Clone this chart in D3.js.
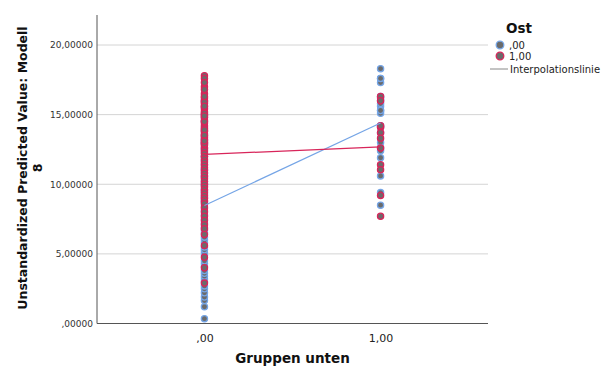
<!DOCTYPE html>
<html><head><meta charset="utf-8">
<script src="https://cdn.jsdelivr.net/npm/d3@7"></script>
<style>body{margin:0;background:#fff}svg{display:block}</style>
</head><body>
<svg id="c" width="612" height="369"></svg>
<script>
const xCategories = [0, 1];
const xTickLabels = [",00", "1,00"];
const yTicks = [0, 5, 10, 15, 20];
const yTickLabels = [",00000", "5,00000", "10,00000", "15,00000", "20,00000"];
const legendLabels = [",00", "1,00"];
// Ost = 0 (blue outline)
const ost0_x0 = [0.35,1.2,1.65,1.9,2.2,2.5,2.7,3.0,3.2,3.4,3.6,3.8,4.1,4.3,4.5,4.9,
  5.1,5.3,5.5,5.8,6.0,6.2,6.5,6.7,6.9,7.2,7.5,7.8,
  8.1,8.4,8.7,9.0,9.3,9.6,9.9,10.2,10.5,10.8,11.1,11.4,11.7,12.0,12.3,12.6,12.9,13.2,13.5,13.8,
  14.1,14.5,15.0,15.5,16.0,9.1,10.0,11.0,12.0,13.0,14.8,8.8,9.5,12.5,13.3,10.6];
const ost0_x1 = [18.3,17.6,17.3,15.6,15.3,15.1,14.2,13.0,12.6,12.4,11.9,10.6,9.4,8.5,
  16.3,16.0,14.1,13.7,16.2,15.8,17.6,15.3];
// Ost = 1 (red outline)
const ost1_x0 = [17.8,17.6,17.0,16.5,16.2,16.0,15.8,15.6,15.4,15.2,15.0,14.8,14.6,14.4,14.2,14.0,
  13.8,13.6,13.4,13.2,13.0,12.8,12.6,12.4,12.2,12.0,11.8,11.6,11.4,11.2,11.0,10.8,10.6,10.4,10.2,
  10.0,9.8,9.6,9.4,9.2,9.0,8.8,8.6,8.3,8.0,7.7,7.4,7.1,6.8,6.4,5.6,4.75,4.0,2.9,
  17.3,16.8,15.9,15.1,14.5,13.9,13.5,12.9,14.9,15.6,16.3,13.1];
const ost1_x1 = [16.3,16.0,14.1,13.7,13.3,11.4,11.05,9.2,7.7,12.6,14.2];

const colors = ["#75a5e6", "#d8255a"];
const fillGrey = "#6b6b6b";

const svg = d3.select("#c");
const pLeft = 97, pRight = 488, pTop = 15, pBottom = 323.5;
const x = d3.scaleLinear().domain([-0.61, 1.61]).range([pLeft, pRight]);
const y = d3.scaleLinear().domain([0, 20]).range([pBottom, 45]);
const font = "'DejaVu Sans', sans-serif";

// grid
svg.append("g").selectAll("line").data(yTicks.filter(d => d > 0)).join("line")
  .attr("x1", pLeft).attr("x2", pRight).attr("y1", d => y(d)).attr("y2", d => y(d))
  .attr("stroke", "#d4d4d4").attr("stroke-width", 1);

// y axis
const yAxis = d3.axisLeft(y).tickValues(yTicks).tickSize(0).tickPadding(4)
  .tickFormat((d, i) => yTickLabels[i]);
const gy = svg.append("g").attr("transform", `translate(${pLeft},0)`).call(yAxis);
gy.select(".domain").remove();
gy.selectAll("text").attr("font-family", font).attr("font-size", 9).attr("fill", "#333");
svg.append("line").attr("x1", pLeft).attr("x2", pLeft).attr("y1", pTop).attr("y2", pBottom)
  .attr("stroke", "#555").attr("stroke-width", 1);

// x axis
const xAxis = d3.axisBottom(x).tickValues(xCategories).tickSize(0).tickPadding(11)
  .tickFormat((d, i) => xTickLabels[i]);
const gx = svg.append("g").attr("transform", `translate(0,${pBottom})`).call(xAxis);
gx.select(".domain").remove();
gx.selectAll("text").attr("font-family", font).attr("font-size", 11).attr("fill", "#222");
svg.append("line").attr("x1", pLeft).attr("x2", pRight).attr("y1", pBottom).attr("y2", pBottom)
  .attr("stroke", "#555").attr("stroke-width", 1);

// titles
svg.append("text").attr("x", (pLeft + pRight) / 2).attr("y", 363).attr("text-anchor", "middle")
  .attr("font-family", font).attr("font-weight", "bold").attr("font-size", 13.5).attr("fill", "#111")
  .text("Gruppen unten");
const yt = svg.append("text").attr("transform", "translate(27,168) rotate(-90)")
  .attr("text-anchor", "middle").attr("font-family", font).attr("font-weight", "bold")
  .attr("font-size", 12.5).attr("fill", "#111");
yt.append("tspan").attr("x", 0).attr("dy", 0).text("Unstandardized Predicted Value: Modell");
yt.append("tspan").attr("x", 0).attr("dy", 15).text("8");

// data points
const groups = [
  {xs: [0, 1], vals: [ost0_x0, ost0_x1], color: colors[0]},
  {xs: [0, 1], vals: [ost1_x0, ost1_x1], color: colors[1]}
];
groups.forEach(g => {
  const pts = [];
  g.xs.forEach((xv, i) => g.vals[i].forEach(v => pts.push([xv, v])));
  svg.append("g").selectAll("circle").data(pts).join("circle")
    .attr("cx", d => x(d[0])).attr("cy", d => y(d[1])).attr("r", 3.1)
    .attr("fill", fillGrey).attr("stroke", g.color).attr("stroke-width", 1.3);
});
// interpolation lines (means)
groups.forEach(g => {
  const means = g.xs.map((xv, i) => [xv, d3.mean(g.vals[i])]);
  svg.append("path").datum(means)
    .attr("d", d3.line().x(d => x(d[0])).y(d => y(d[1])))
    .attr("fill", "none").attr("stroke", g.color).attr("stroke-width", 1.2);
});

// legend
svg.append("text").attr("x", 519).attr("y", 33).attr("text-anchor", "middle")
  .attr("font-family", font).attr("font-weight", "bold").attr("font-size", 13.5).attr("fill", "#111").text("Ost");
legendLabels.forEach((lab, i) => {
  const ly = 45 + i * 11;
  svg.append("circle").attr("cx", 500).attr("cy", ly).attr("r", 3.8)
    .attr("fill", fillGrey).attr("stroke", colors[i]).attr("stroke-width", 1.3);
  svg.append("text").attr("x", 509).attr("y", ly + 3.5).attr("font-family", font)
    .attr("font-size", 10).attr("fill", "#222").text(lab);
});
svg.append("line").attr("x1", 490).attr("x2", 508).attr("y1", 69).attr("y2", 69)
  .attr("stroke", "#888").attr("stroke-width", 1);
svg.append("text").attr("x", 510).attr("y", 72.5).attr("font-family", font)
  .attr("font-size", 10).attr("fill", "#222").text("Interpolationslinie");
</script>
</body></html>
